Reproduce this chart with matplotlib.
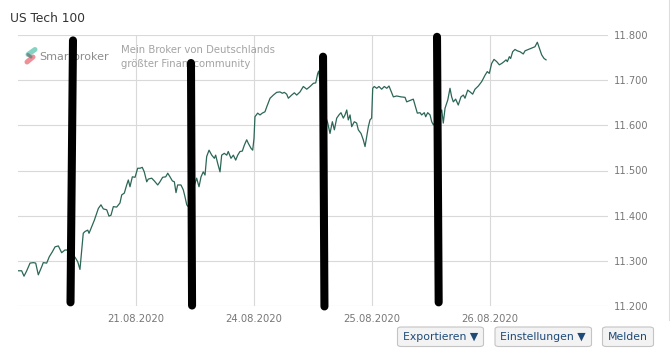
import matplotlib
matplotlib.use("Agg")
import matplotlib.pyplot as plt
from matplotlib.lines import Line2D
from matplotlib.patches import FancyBboxPatch

# ---------------- data ----------------
title = "US Tech 100"
session_labels = ["21.08.2020", "24.08.2020", "25.08.2020", "26.08.2020"]
session_ticks = [1, 2, 3, 4]
y_ticks = [11200, 11300, 11400, 11500, 11600, 11700, 11800]

# time in trading sessions since open of 20.08.2020
times = [0.000, 0.031, 0.051, 0.074, 0.102, 0.130, 0.150, 0.172, 0.201, 0.214,
         0.243, 0.265, 0.291, 0.314, 0.342, 0.370, 0.398, 0.413, 0.449, 0.483,
         0.506, 0.525, 0.540, 0.553, 0.568, 0.591, 0.602, 0.625, 0.647, 0.667,
         0.681, 0.703, 0.723, 0.752, 0.771, 0.788, 0.808, 0.836, 0.864, 0.879,
         0.901, 0.921, 0.935, 0.949, 0.969, 0.992, 1.014, 1.034, 1.053, 1.070,
         1.091, 1.104, 1.133, 1.155, 1.184, 1.203, 1.226, 1.252, 1.269, 1.288,
         1.308, 1.325, 1.339, 1.353, 1.381, 1.401, 1.415, 1.430, 1.443, 1.475,
         1.514, 1.534, 1.551, 1.570, 1.585, 1.599, 1.619, 1.642, 1.664, 1.675,
         1.692, 1.712, 1.726, 1.748, 1.769, 1.782, 1.805, 1.825, 1.845, 1.862,
         1.881, 1.901, 1.918, 1.938, 1.952, 1.975, 1.989, 2.000, 2.008, 2.031,
         2.051, 2.070, 2.093, 2.108, 2.136, 2.164, 2.192, 2.220, 2.240, 2.257,
         2.277, 2.291, 2.319, 2.342, 2.362, 2.390, 2.418, 2.447, 2.475, 2.503,
         2.523, 2.540, 2.548, 2.576, 2.602, 2.625, 2.644, 2.664, 2.681, 2.701,
         2.720, 2.737, 2.757, 2.771, 2.786, 2.799, 2.814, 2.828, 2.850, 2.870,
         2.884, 2.907, 2.926, 2.941, 2.955, 2.969, 2.983, 2.997, 3.006, 3.019,
         3.040, 3.059, 3.082, 3.104, 3.125, 3.144, 3.164, 3.181, 3.209, 3.246,
         3.280, 3.294, 3.322, 3.350, 3.364, 3.384, 3.407, 3.421, 3.443, 3.455,
         3.472, 3.492, 3.506, 3.520, 3.551, 3.591, 3.604, 3.619, 3.642, 3.661,
         3.675, 3.689, 3.709, 3.731, 3.754, 3.774, 3.788, 3.811, 3.831, 3.853,
         3.873, 3.901, 3.930, 3.958, 3.977, 3.994, 4.014, 4.034, 4.057, 4.079,
         4.099, 4.119, 4.136, 4.147, 4.164, 4.175, 4.192, 4.212, 4.231, 4.254,
         4.282, 4.297, 4.325, 4.353, 4.381, 4.401, 4.418, 4.438, 4.458, 4.475]

values = [11278, 11278, 11266, 11278, 11295, 11296, 11295, 11269, 11287, 11296,
          11295, 11309, 11320, 11331, 11333, 11318, 11324, 11324, 11317, 11308,
          11298, 11281, 11324, 11361, 11365, 11368, 11361, 11376, 11390, 11405,
          11416, 11424, 11415, 11413, 11399, 11401, 11420, 11419, 11428, 11446,
          11450, 11468, 11479, 11464, 11486, 11485, 11505, 11505, 11507, 11497,
          11475, 11481, 11483, 11477, 11468, 11475, 11485, 11486, 11494, 11486,
          11477, 11475, 11451, 11468, 11468, 11457, 11442, 11424, 11420, 11452,
          11483, 11464, 11486, 11497, 11490, 11531, 11545, 11534, 11527, 11534,
          11516, 11497, 11534, 11538, 11534, 11542, 11527, 11534, 11523, 11534,
          11542, 11543, 11556, 11568, 11560, 11549, 11545, 11571, 11619, 11627,
          11623, 11627, 11630, 11641, 11660, 11667, 11673, 11674, 11671, 11673,
          11669, 11660, 11667, 11672, 11667, 11674, 11686, 11680, 11686, 11693,
          11694, 11715, 11720, 11667, 11623, 11605, 11582, 11608, 11590, 11616,
          11623, 11628, 11616, 11623, 11634, 11612, 11623, 11597, 11608, 11605,
          11590, 11582, 11568, 11553, 11575, 11597, 11612, 11616, 11682, 11686,
          11682, 11686, 11680, 11686, 11682, 11687, 11674, 11663, 11665, 11663,
          11662, 11652, 11655, 11658, 11645, 11627, 11628, 11623, 11628, 11619,
          11628, 11623, 11608, 11601, 11612, 11634, 11605, 11638, 11656, 11682,
          11663, 11652, 11658, 11645, 11663, 11667, 11660, 11678, 11674, 11669,
          11680, 11687, 11697, 11711, 11719, 11715, 11737, 11746, 11741, 11734,
          11737, 11741, 11745, 11741, 11752, 11748, 11763, 11768, 11765, 11763,
          11758, 11765, 11768, 11771, 11774, 11784, 11771, 11756, 11748, 11745]

# thick black marker strokes drawn over the chart
mark_time_top = [0.466, 1.466, 2.585, 3.551]
mark_time_bottom = [0.445, 1.475, 2.597, 3.565]
mark_top = [11788, 11738, 11752, 11796]
mark_bottom = [11208, 11201, 11199, 11208]

buttons = ["Exportieren \u25BC", "Einstellungen \u25BC", "Melden"]

# ---------------- figure ----------------
W, H = 670, 354
plt.rcParams["font.family"] = ["DejaVu Sans"]
fig = plt.figure(figsize=(W / 100, H / 100), dpi=100)
fig.patch.set_facecolor("white")


def fx(x):
    return x / W


def fy(y):
    return 1 - y / H


ax = fig.add_axes([fx(18), fy(306), fx(608) - fx(18), fy(35) - fy(306)])
ax.set_facecolor("white")
ax.set_xlim(0, 5)
ax.set_ylim(11200, 11800)
for s in ax.spines.values():
    s.set_visible(False)

grid_c = "#d9d9d9"
ax.set_yticks(y_ticks)
ax.set_xticks(session_ticks)
ax.grid(True, color=grid_c, linewidth=0.8)
ax.set_axisbelow(True)
ax.yaxis.tick_right()
ax.tick_params(axis="both", length=0, colors="#777777")
ax.set_yticklabels([f"{v:,}".replace(",", ".") for v in y_ticks], fontsize=7.1)
ax.set_xticklabels(session_labels, fontsize=7.2)
ax.tick_params(axis="y", pad=4)
ax.tick_params(axis="x", pad=6)

ax.plot(times, values, color="#2c6657", linewidth=0.9, zorder=3)

for tt, tb, yt, yb in zip(mark_time_top, mark_time_bottom, mark_top, mark_bottom):
    ax.plot([tb, tt], [yb, yt], color="black", linewidth=5.8,
            solid_capstyle="round", clip_on=False, zorder=6)

# ---------------- texts ----------------
fig.text(fx(10), fy(19), title, fontsize=8.8, color="#333333", va="center", ha="left")

# logo watermark (drawn inside the axes, below the black strokes)
tf = fig.transFigure
for (xa, ya, xb, yb, c, lw) in [(35, 49.5, 28, 54.5, "#86d3c3", 3.6),
                                (33, 57, 27, 62, "#f08f97", 3.6),
                                (28, 54.5, 31, 57, "#7a8a88", 2.2)]:
    ax.add_line(Line2D([fx(xa), fx(xb)], [fy(ya), fy(yb)], color=c,
                       linewidth=lw, solid_capstyle="round", transform=tf,
                       clip_on=False, zorder=2))
ax.text(fx(39.5), fy(57), "Smartbroker", fontsize=8.0, color="#8c8c8c",
        va="center", ha="left", transform=tf, zorder=2, clip_on=False)
ax.text(fx(121), fy(50), "Mein Broker von Deutschlands", fontsize=7.3,
        color="#a3a3a3", va="center", ha="left", transform=tf, zorder=2)
ax.text(fx(121), fy(64), "größter Finanzcommunity", fontsize=7.3,
        color="#a3a3a3", va="center", ha="left", transform=tf, zorder=2)

# buttons
btn_boxes = [(397.5, 483.5), (495, 591.5), (602.5, 653.5)]
for label, (x0, x1) in zip(buttons, btn_boxes):
    y0, y1 = 327, 346.5
    p = FancyBboxPatch((fx(x0), fy(y1)), fx(x1) - fx(x0), fy(y0) - fy(y1),
                       boxstyle="round,pad=0,rounding_size=0.006",
                       transform=fig.transFigure, facecolor="#f3f3f3",
                       edgecolor="#c4c4c4", linewidth=0.8)
    fig.add_artist(p)
    fig.text(fx((x0 + x1) / 2), fy(337), label, fontsize=7.8, color="#1f4a78",
             ha="center", va="center")

# right page border
fig.add_artist(Line2D([fx(669), fx(669)], [fy(0), fy(320)], color="#dddddd",
                      linewidth=0.8))

fig.savefig("out.png", dpi=100, facecolor="white")
